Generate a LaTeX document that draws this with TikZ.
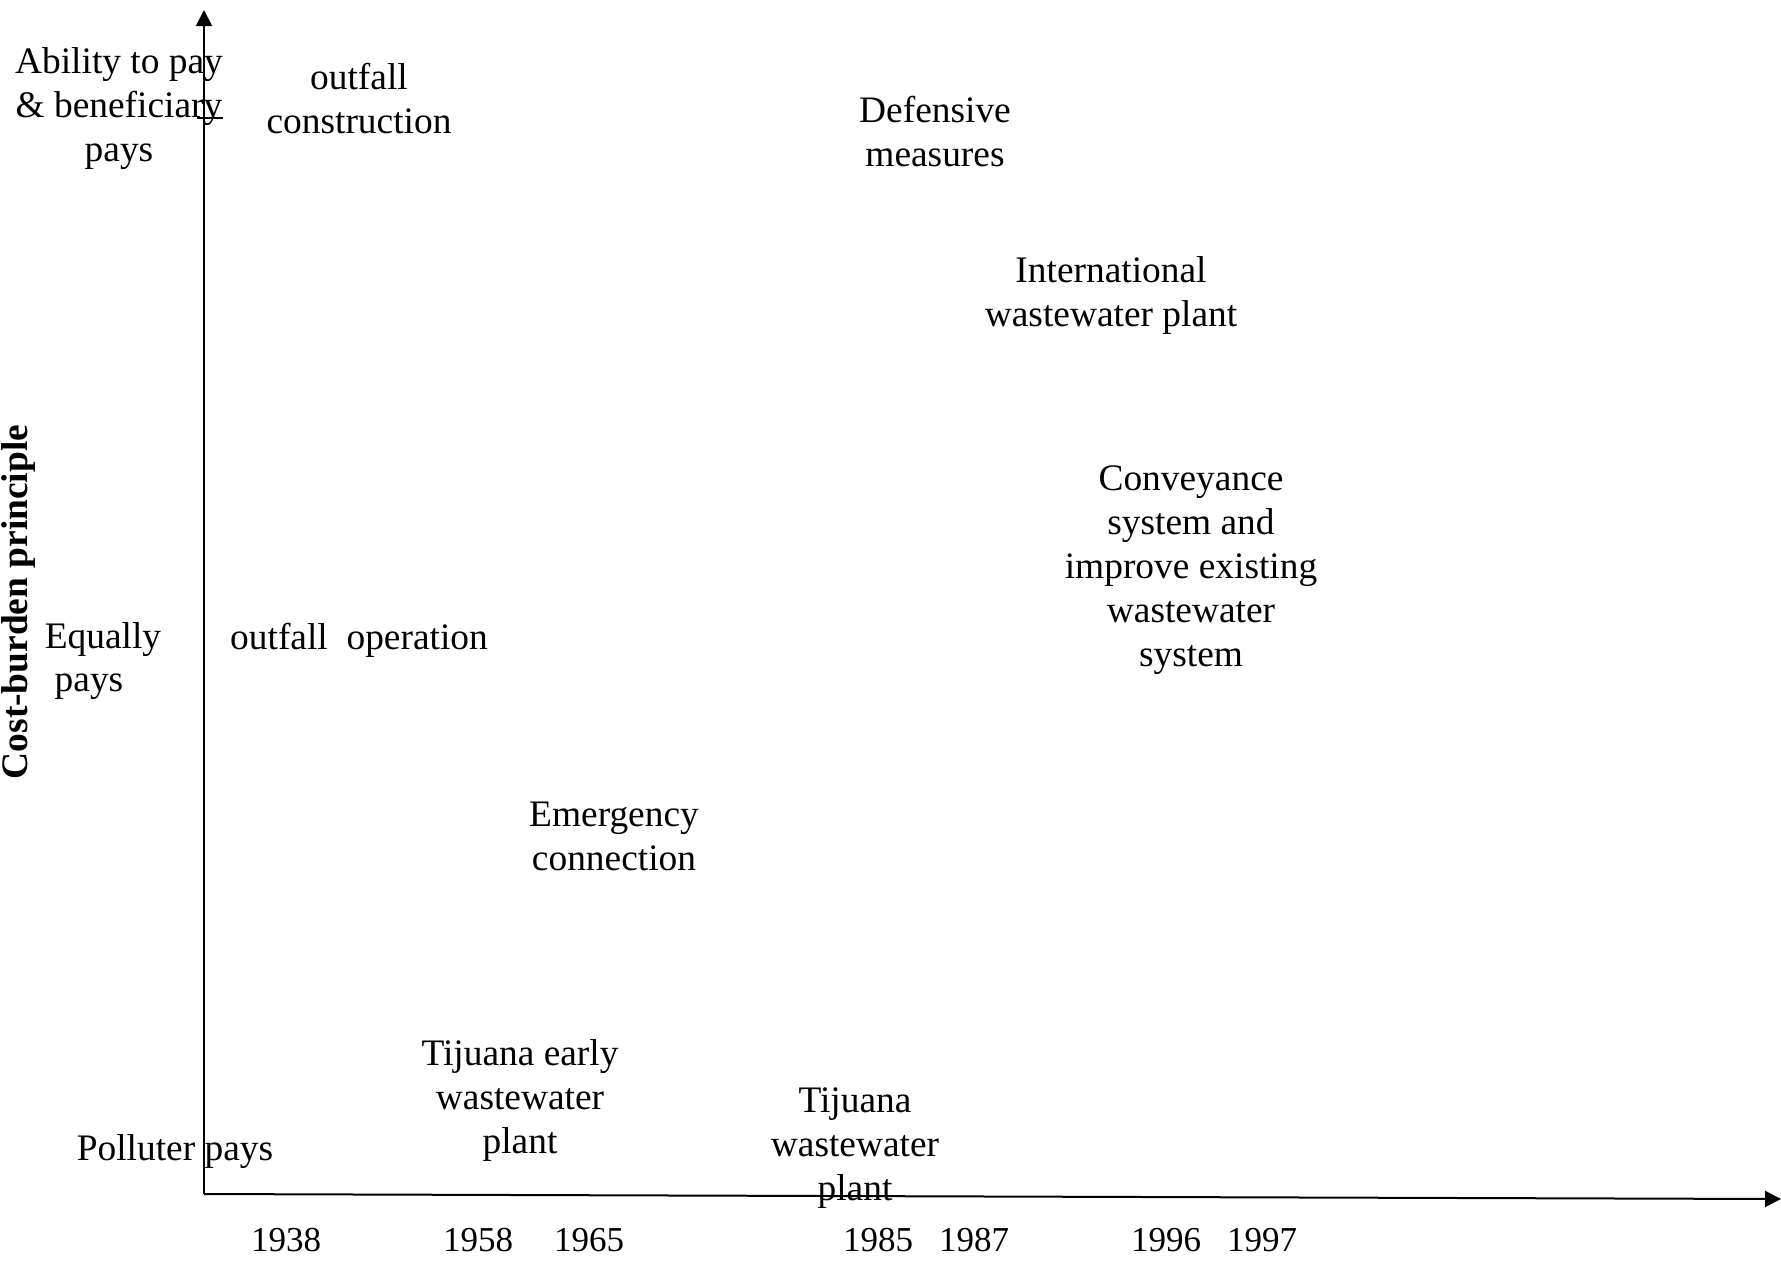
\documentclass[tikz,border=0pt]{standalone}
\usepackage{fontspec}
\setmainfont{Liberation Serif}
\usetikzlibrary{arrows.meta}
\begin{document}
\begin{tikzpicture}[x=0.5pt,y=-0.5pt,
  lbl/.style={inner sep=0pt,align=center,font=\fontsize{18.7}{22}\selectfont},
  yr/.style={inner sep=0pt,font=\fontsize{17.5}{22}\selectfont},
  axis/.style={line width=1pt,-{Triangle[length=8pt,width=8pt]}}]
\useasboundingbox (0,0) rectangle (1781,1260);
\coordinate (o) at (204,1194);
\coordinate (ytip) at (204,10);
\coordinate (xtip) at (1781,1199);
\draw[axis] (o) -- (ytip);
\draw[axis] (o) -- (xtip);
\coordinate (t1) at (197,118);
\coordinate (t2) at (223,118);
\draw[line width=1pt] (t1) -- (t2);
% y-axis categories
\node[lbl] (ab) at (119,109) {Ability to pay\\\& beneficiary\\pays};
\node[lbl] (eq) at (103,640) {Equally};
\node[lbl] (eqp) at (89,687) {pays};
\node[lbl] (pp) at (175,1152) {Polluter pays};
% events
\node[lbl] (oc) at (359,99) {outfall\\construction};
\node[lbl] (dm) at (935,132) {Defensive\\measures};
\node[lbl] (iw) at (1111,295) {International\\wastewater plant};
\node[lbl] (cs) at (1191,570) {Conveyance\\system and\\improve existing\\wastewater\\system};
\node[lbl] (oo) at (359,640) {outfall~~operation};
\node[lbl] (ec) at (614,836) {Emergency\\connection};
\node[lbl] (te) at (520,1100) {Tijuana early\\wastewater\\plant};
\node[lbl] (tw) at (855,1148) {Tijuana\\wastewater\\plant};
% years
\foreach \x/\yr in {286/1938,478/1958,589/1965,878/1985,974/1987,1166/1996,1262/1997}
  \node[yr] (y\yr) at (\x,1240) {\yr};
% axis title
\node[lbl,font=\fontsize{18.7}{22}\selectfont\bfseries,rotate=90] (yl) at (19,602) {Cost-burden principle};
\end{tikzpicture}
\end{document}
